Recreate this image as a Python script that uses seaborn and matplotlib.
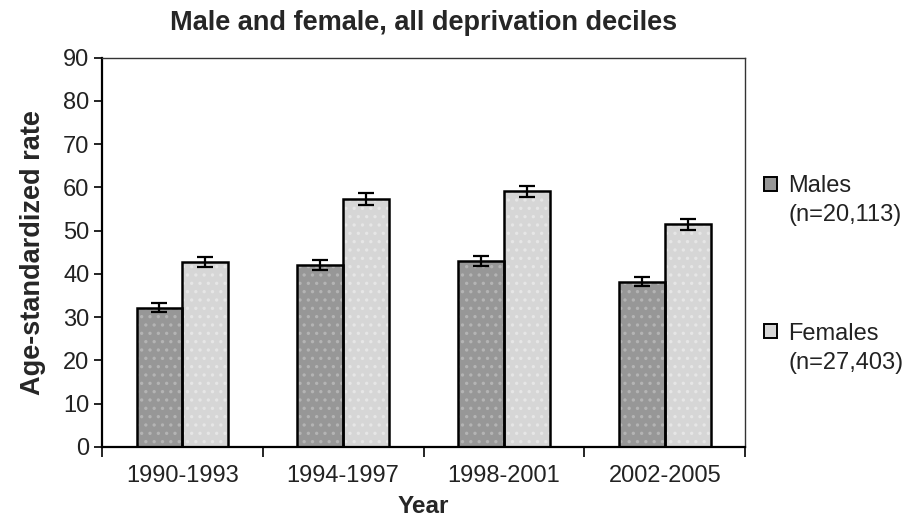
import matplotlib
matplotlib.use("Agg")
import matplotlib.pyplot as plt
import seaborn as sns
import pandas as pd
import numpy as np
from matplotlib.patches import Patch

years = ["1990-1993", "1994-1997", "1998-2001", "2002-2005"]
males = [32.2, 42.0, 43.0, 38.2]
females = [42.8, 57.4, 59.1, 51.5]
males_err = [1.0, 1.2, 1.1, 1.1]
females_err = [1.2, 1.4, 1.3, 1.3]
series = ["Males", "Females"]
series_n = ["(n=20,113)", "(n=27,403)"]

sns.set_theme(style="white")
plt.rcParams['font.family'] = ['Liberation Sans', 'DejaVu Sans']
plt.rcParams['hatch.linewidth'] = 1.2

df = pd.DataFrame({
    "Year": years * 2,
    "Rate": males + females,
    "Sex": [series[0]] * 4 + [series[1]] * 4,
})

fig = plt.figure(figsize=(9.1, 5.25), dpi=100)
ax = fig.add_axes([0.112, 0.149, 0.707, 0.741])

colors = {series[0]: "#979797", series[1]: "#d6d6d6"}
dot_cols = {series[0]: "#b4b4b4", series[1]: "#e6e6e6"}

# filled layer with light dot texture
sns.barplot(data=df, x="Year", y="Rate", hue="Sex", palette=colors,
            width=0.57, errorbar=None, linewidth=0, ax=ax, legend=False,
            saturation=1)
for p, s in zip([p for p in ax.patches if p.get_height() > 0], df["Sex"]):
    p.set_hatch("..")
    p.set_edgecolor(dot_cols[s])
    p.set_linewidth(0)
n_fill = len(ax.patches)

# outline layer
sns.barplot(data=df, x="Year", y="Rate", hue="Sex", palette=colors,
            width=0.57, errorbar=None, fill=False, linewidth=1.8,
            ax=ax, legend=False, saturation=1)
outline = [p for p in ax.patches[n_fill:] if p.get_height() > 0]
errs = males_err + females_err
for p, e in zip(outline, errs):
    p.set_edgecolor("black")
    p.set_facecolor("none")
    cx = p.get_x() + p.get_width() / 2
    ax.errorbar(cx, p.get_height(), yerr=e, color="black", capsize=6,
                elinewidth=1.6, capthick=1.6, fmt="none", zorder=5)

ax.set_ylim(0, 90)
ax.set_xlim(-0.5, 3.5)
ax.set_yticks(np.arange(0, 91, 10))
ax.set_xticks(np.arange(-0.5, 3.6, 1), minor=False)
ax.set_xticklabels([])
ax.set_xticks(range(4), minor=True)
ax.set_xticklabels(years, minor=True)
ax.tick_params(axis="x", which="major", length=7, width=1.2, color="black", direction="out", bottom=True)
ax.tick_params(axis="x", which="minor", length=0, labelsize=17, pad=13, labelcolor="#222222")
ax.tick_params(axis="y", length=6, width=1.2, color="black", direction="out", left=True,
               labelsize=17, pad=3, labelcolor="#222222")

for side in ["left", "bottom"]:
    ax.spines[side].set_color("black")
    ax.spines[side].set_linewidth(1.6)
for side in ["top", "right"]:
    ax.spines[side].set_color("#333333")
    ax.spines[side].set_linewidth(1.0)
    ax.spines[side].set_linestyle((0, (1, 1)))

ax.set_xlabel("Year", fontsize=17.5, fontweight="bold", labelpad=6)
ax.set_ylabel("Age-standardized rate", fontsize=19.5, fontweight="bold", labelpad=12)
ax.set_title("Male and female, all deprivation deciles", fontsize=19.5, fontweight="bold", pad=20)

for i, (s, n, yc) in enumerate(zip(series, series_n, [0.618, 0.337])):
    h = Patch(facecolor=colors[s], edgecolor="black", linewidth=1.4)
    blank = Patch(facecolor="none", edgecolor="none")
    leg = fig.legend([h, blank], [s, n], loc="center left", bbox_to_anchor=(0.840, yc),
                     frameon=False, fontsize=17, labelspacing=0.3, handlelength=0.55,
                     handleheight=0.55, handletextpad=0.45, borderpad=0, borderaxespad=0)
    for t in leg.get_texts():
        t.set_color("#222222")

fig.savefig("out.png", dpi=100)
